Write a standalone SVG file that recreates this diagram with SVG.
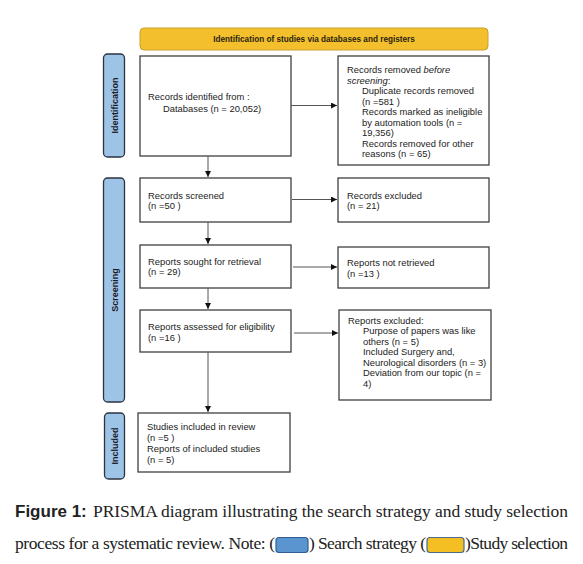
<svg xmlns="http://www.w3.org/2000/svg" width="583" height="564" viewBox="0 0 583 564">
<style>
.box{fill:#fff;stroke:#404040;stroke-width:1.3}
.side{fill:#9dc3e6;stroke:#2b3440;stroke-width:1.3}
.t{font-family:"Liberation Sans",Arial,sans-serif;font-size:9.4px;fill:#222}
.it{font-style:italic}
.st{font-family:"Liberation Sans",Arial,sans-serif;font-size:9px;font-weight:bold;fill:#1b1b2a}
.bt{font-family:"Liberation Sans",Arial,sans-serif;font-size:8.2px;font-weight:bold;fill:#2a2410}
.ln{stroke:#555;stroke-width:1;fill:none}
.cap{font-family:"Liberation Serif","Times New Roman",serif;font-size:17.5px;fill:#222}
.capb{font-family:"Liberation Sans",Arial,sans-serif;font-size:17px;font-weight:bold;fill:#222}
</style>
<defs>
<marker id="ah" viewBox="0 0 10 10" refX="10" refY="5" markerWidth="6" markerHeight="6" markerUnits="userSpaceOnUse" orient="auto">
<path d="M0,0 L10,5 L0,10 z" fill="#111"/>
</marker>
</defs>
<rect width="583" height="564" fill="#fff"/>

<g id="banner">
<rect x="140" y="28" width="348" height="22" rx="4" fill="#f3bf2c" stroke="#c9a02e" stroke-width="1"/>
<text class="bt" x="314" y="42" text-anchor="middle">Identification of studies via databases and registers</text>
</g>

<g id="side-identification">
<rect class="side" x="103.5" y="54" width="21" height="103" rx="4"/>
<text class="st" transform="translate(117.5,105.5) rotate(-90)" text-anchor="middle">Identification</text>
</g>
<g id="side-screening">
<rect class="side" x="103.5" y="178" width="21" height="224" rx="4"/>
<text class="st" transform="translate(117.5,290) rotate(-90)" text-anchor="middle">Screening</text>
</g>
<g id="side-included">
<rect class="side" x="104.5" y="413" width="20" height="66" rx="4"/>
<text class="st" transform="translate(117.5,446) rotate(-90)" text-anchor="middle">Included</text>
</g>

<g id="n-identified">
<rect class="box" x="140" y="56" width="151" height="100"/>
<text class="t" x="148" y="100">Records identified from :</text>
<text class="t" x="163" y="111.5">Databases (n = 20,052)</text>
</g>
<g id="n-removed">
<rect class="box" x="338" y="56" width="151" height="109"/>
<text class="t" x="347" y="73">Records removed <tspan class="it">before</tspan></text>
<text class="t" x="347" y="83.5"><tspan class="it">screening</tspan>:</text>
<text class="t" x="362" y="94">Duplicate records removed</text>
<text class="t" x="362" y="104.5">(n =581 )</text>
<text class="t" x="362" y="115">Records marked as ineligible</text>
<text class="t" x="362" y="125.5">by automation tools (n =</text>
<text class="t" x="362" y="136">19,356)</text>
<text class="t" x="362" y="146.5">Records removed for other</text>
<text class="t" x="362" y="157">reasons (n = 65)</text>
</g>
<g id="n-screened">
<rect class="box" x="140" y="178" width="151" height="44"/>
<text class="t" x="148" y="198.5">Records screened</text>
<text class="t" x="148" y="209">(n =50 )</text>
</g>
<g id="n-excluded">
<rect class="box" x="338" y="178" width="151" height="44"/>
<text class="t" x="347" y="198.5">Records excluded</text>
<text class="t" x="347" y="209">(n = 21)</text>
</g>
<g id="n-sought">
<rect class="box" x="140" y="245" width="151" height="43"/>
<text class="t" x="148" y="264.5">Reports sought for retrieval</text>
<text class="t" x="148" y="275">(n = 29)</text>
</g>
<g id="n-notretrieved">
<rect class="box" x="338" y="247" width="151" height="41"/>
<text class="t" x="347" y="266">Reports not retrieved</text>
<text class="t" x="347" y="276.5">(n =13 )</text>
</g>
<g id="n-assessed">
<rect class="box" x="140" y="310" width="151" height="42"/>
<text class="t" x="148" y="330">Reports assessed for eligibility</text>
<text class="t" x="148" y="341">(n =16 )</text>
</g>
<g id="n-reportsexcluded">
<rect class="box" x="339" y="310" width="152" height="90"/>
<text class="t" x="348" y="323.5">Reports excluded:</text>
<text class="t" x="363" y="334">Purpose of papers was like</text>
<text class="t" x="363" y="344.5">others (n = 5)</text>
<text class="t" x="363" y="355">Included Surgery and,</text>
<text class="t" x="363" y="365.5">Neurological disorders (n = 3)</text>
<text class="t" x="363" y="376">Deviation from our topic (n =</text>
<text class="t" x="363" y="386.5">4)</text>
</g>
<g id="n-included">
<rect class="box" x="138" y="413" width="152" height="59"/>
<text class="t" x="147" y="430">Studies included in review</text>
<text class="t" x="147" y="441">(n =5 )</text>
<text class="t" x="147" y="452">Reports of included studies</text>
<text class="t" x="147" y="463">(n = 5)</text>
</g>

<g id="connectors">
<line class="ln" x1="291" y1="105.5" x2="337" y2="105.5" marker-end="url(#ah)"/>
<line class="ln" x1="292" y1="199.5" x2="337" y2="199.5" marker-end="url(#ah)"/>
<line class="ln" x1="293" y1="267" x2="337" y2="267" marker-end="url(#ah)"/>
<line class="ln" x1="294" y1="333" x2="338" y2="333" marker-end="url(#ah)"/>
<line class="ln" x1="208" y1="156" x2="208" y2="177" marker-end="url(#ah)"/>
<line class="ln" x1="208" y1="222" x2="208" y2="244" marker-end="url(#ah)"/>
<line class="ln" x1="208" y1="288" x2="208" y2="309" marker-end="url(#ah)"/>
<line class="ln" x1="208" y1="352" x2="208" y2="412" marker-end="url(#ah)"/>
</g>

<g id="caption">
<text class="capb" x="15" y="517">Figure 1:</text>
<text class="cap" x="93" y="517" textLength="475" lengthAdjust="spacing">PRISMA diagram illustrating the search strategy and study selection</text>
<text class="cap" x="15" y="549" textLength="260" lengthAdjust="spacing">process for a systematic review. Note: (</text>
<rect x="276" y="537.5" width="32" height="15" rx="3" fill="#5b95cf" stroke="#2f5f95" stroke-width="1.2"/>
<text class="cap" x="309" y="549" textLength="117" lengthAdjust="spacing">) Search strategy (</text>
<rect x="427" y="537.5" width="37" height="15" rx="3" fill="#f3bf22" stroke="#4a6a8f" stroke-width="1.2"/>
<text class="cap" x="465" y="549" textLength="103" lengthAdjust="spacing">)Study selection</text>
</g>
</svg>
